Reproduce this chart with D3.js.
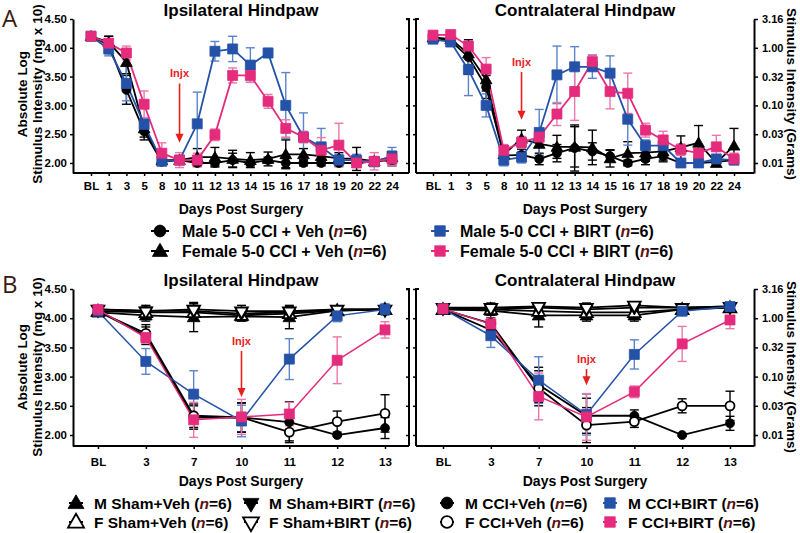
<!DOCTYPE html>
<html><head><meta charset="utf-8">
<script src="https://cdn.jsdelivr.net/npm/d3@7"></script>
<style>
body{margin:0;background:#fff;}
svg{font-family:"Liberation Sans",Arial,sans-serif;}
</style></head>
<body><svg id="c" width="800" height="533"></svg>
<script>
// ---------- DATA ----------
const catsA = ["BL","1","3","5","8","10","11","12","13","14","15","16","17","18","19","20","22","24"];
const catsB = ["BL","3","7","10","11","12","13"];
const yTicks = [2.0,2.5,3.0,3.5,4.0,4.5];
const gramTicks = ["0.01","0.03","0.10","0.32","1.00","3.16"];

// Panel A – Ipsilateral
const aIpsiMaleVeh    = [4.20,4.05,3.27,2.55,2.02,2.05,2.00,2.00,2.05,2.00,2.05,2.00,2.00,2.00,2.00,2.00,2.03,2.05];
const aIpsiMaleVehErr = [0.03,0.15,0.25,0.15,0.05,0.05,0.05,0.05,0.12,0.05,0.05,0.08,0.05,0.05,0.05,0.05,0.03,0.10];
const aIpsiFemVeh     = [4.20,4.10,3.75,2.60,2.05,2.05,2.10,2.10,2.07,2.05,2.07,2.15,2.15,2.12,2.08,2.07,2.03,2.10];
const aIpsiFemVehErr  = [0.03,0.10,0.20,0.15,0.05,0.05,0.15,0.17,0.15,0.13,0.12,0.25,0.10,0.10,0.10,0.20,0.05,0.10];
const aIpsiMaleBirt   = [4.20,3.98,3.38,2.67,2.03,2.05,2.68,3.94,3.98,3.70,3.91,3.00,2.45,2.28,2.05,2.05,2.02,2.12];
const aIpsiMaleBirtErr= [0.03,0.12,0.30,0.10,0.05,0.05,0.55,0.17,0.22,0.30,0.08,0.57,0.42,0.32,0.10,0.10,0.05,0.15];
const aIpsiFemBirt    = [4.20,4.08,3.91,3.02,2.17,2.05,2.05,2.49,3.52,3.52,3.07,2.60,2.45,2.22,2.31,2.00,2.03,2.07];
const aIpsiFemBirtErr = [0.03,0.05,0.12,0.23,0.18,0.13,0.12,0.10,0.13,0.12,0.12,0.15,0.10,0.22,0.38,0.05,0.15,0.12];

// Panel A – Contralateral
const aConMaleVeh     = [4.18,4.12,3.84,3.32,2.13,2.14,2.07,2.17,2.26,2.20,2.12,2.00,2.07,2.12,2.00,2.00,2.02,2.05];
const aConMaleVehErr  = [0.03,0.05,0.30,0.20,0.15,0.10,0.10,0.15,0.40,0.15,0.10,0.05,0.10,0.10,0.05,0.05,0.05,0.05];
const aConFemVeh      = [4.18,4.15,3.90,3.45,2.15,2.42,2.33,2.28,2.28,2.27,2.08,2.17,2.18,2.20,2.27,2.35,2.00,2.30];
const aConFemVehErr   = [0.03,0.05,0.20,0.20,0.15,0.15,0.20,0.20,0.35,0.30,0.15,0.20,0.15,0.15,0.20,0.30,0.05,0.30];
const aConMaleBirt    = [4.15,4.10,3.62,3.00,2.05,2.10,2.53,3.53,3.67,3.67,3.56,2.76,2.30,2.30,2.00,2.00,2.07,2.05];
const aConMaleBirtErr = [0.03,0.05,0.45,0.20,0.10,0.10,0.40,0.50,0.35,0.20,0.30,0.45,0.10,0.15,0.05,0.05,0.05,0.05];
const aConFemBirt     = [4.22,4.23,4.03,3.63,2.22,2.36,2.45,2.85,3.24,3.76,3.24,3.21,2.57,2.40,2.23,2.17,2.28,2.07];
const aConFemBirtErr  = [0.03,0.05,0.05,0.20,0.10,0.10,0.10,0.20,0.50,0.12,0.30,0.35,0.12,0.15,0.10,0.15,0.20,0.10];

// Panel B – Ipsilateral
const bIpsiMShamVeh   = [4.10,4.05,4.02,4.03,4.02,4.13,4.15];
const bIpsiMShamVehErr= [0.05,0.10,0.25,0.08,0.20,0.05,0.05];
const bIpsiFShamVeh   = [4.12,4.10,4.10,4.05,4.08,4.13,4.15];
const bIpsiFShamVehErr= [0.05,0.08,0.10,0.08,0.08,0.05,0.05];
const bIpsiMShamBirt  = [4.15,4.13,4.12,4.08,4.10,4.15,4.15];
const bIpsiMShamBirtErr=[0.05,0.08,0.10,0.10,0.08,0.05,0.05];
const bIpsiFShamBirt  = [4.15,4.12,4.15,4.12,4.12,4.15,4.15];
const bIpsiFShamBirtErr=[0.05,0.10,0.10,0.10,0.08,0.05,0.05];
const bIpsiMCciVeh    = [4.12,3.70,2.30,2.30,2.22,2.00,2.12];
const bIpsiMCciVehErr = [0.05,0.15,0.20,0.25,0.35,0.02,0.18];
const bIpsiFCciVeh    = [4.12,3.74,2.33,2.30,2.05,2.23,2.37];
const bIpsiFCciVehErr = [0.05,0.15,0.20,0.25,0.15,0.18,0.32];
const bIpsiMCciBirt   = [4.12,3.26,2.70,2.24,3.30,4.04,4.15];
const bIpsiMCciBirtErr= [0.05,0.22,0.40,0.27,0.35,0.10,0.10];
const bIpsiFCciBirt   = [4.15,3.67,2.26,2.31,2.36,3.28,3.80];
const bIpsiFCciBirtErr= [0.05,0.10,0.30,0.30,0.20,0.40,0.14];

// Panel B – Contralateral
const bConMShamVeh    = [4.15,4.13,4.05,4.05,4.05,4.15,4.18];
const bConMShamVehErr = [0.05,0.08,0.20,0.10,0.10,0.05,0.05];
const bConFShamVeh    = [4.15,4.15,4.12,4.10,4.10,4.15,4.18];
const bConFShamVehErr = [0.05,0.08,0.10,0.08,0.08,0.05,0.05];
const bConMShamBirt   = [4.18,4.15,4.18,4.15,4.18,4.18,4.20];
const bConMShamBirtErr= [0.05,0.08,0.05,0.08,0.05,0.05,0.05];
const bConFShamBirt   = [4.18,4.18,4.20,4.18,4.22,4.18,4.20];
const bConFShamBirtErr= [0.05,0.08,0.05,0.08,0.05,0.05,0.05];
const bConMCciVeh     = [4.15,3.80,2.86,2.33,2.33,2.00,2.20];
const bConMCciVehErr  = [0.05,0.15,0.30,0.30,0.10,0.02,0.12];
const bConFCciVeh     = [4.15,3.91,2.80,2.17,2.23,2.50,2.50];
const bConFCciVehErr  = [0.05,0.10,0.30,0.30,0.10,0.12,0.25];
const bConMCciBirt    = [4.16,3.70,2.94,2.35,3.38,4.12,4.20];
const bConMCciBirtErr = [0.05,0.20,0.40,0.35,0.25,0.05,0.05];
const bConFCciBirt    = [4.16,3.90,2.66,2.31,2.74,3.56,3.97];
const bConFCciBirtErr = [0.05,0.10,0.40,0.40,0.10,0.30,0.15];

// ---------- STYLE ----------
const BLUE = "#2452a8", PINK = "#e42b7c", BLUE_E = "#5b84cc", PINK_E = "#ec77a8", BLACK = "#000";
const NCOL = "#5a1414";

const svg = d3.select("#c");

function symPath(kind, size){
  const map = {circle:d3.symbolCircle, square:d3.symbolSquare, tri:d3.symbolTriangle, tridown:d3.symbolTriangle};
  return d3.symbol().type(map[kind]).size(size)();
}

function drawMarker(g, kind, x, y, color, open, size){
  return g.append("path").attr("d", symPath(kind,size))
    .attr("transform", `translate(${x},${y})` + (kind==="tridown" ? " rotate(180)" : (kind==="tri"?" translate(0,1)":"")))
    .attr("fill", open ? "#fff" : color)
    .attr("stroke", color).attr("stroke-width", open ? 1.8 : 0.8);
}

function drawPanel(o){
  const g = svg.append("g");
  const x = d3.scalePoint().domain(o.cats).range([o.xFirst, o.xLast]);
  const y = d3.scaleLinear().domain([o.yMin, 4.5]).range([o.axisY, o.yTop]);

  // x axis
  const xa = g.append("g").attr("transform", `translate(0,${o.axisY})`);
  xa.append("line").attr("x1", o.x0).attr("x2", o.x1).attr("stroke","#000").attr("stroke-width",2);
  xa.call(d3.axisBottom(x).tickSize(3).tickPadding(o.xPad).tickSizeOuter(0))
    .call(s=>s.select(".domain").remove());
  xa.selectAll("text").attr("font-size", o.xFont).attr("font-weight","bold").attr("fill","#000");
  xa.selectAll(".tick line").attr("stroke-width",1.5);

  // left axis
  const ya = g.append("g").attr("transform", `translate(${o.x0},0)`)
    .call(d3.axisLeft(y).tickValues(yTicks).tickSize(3).tickPadding(3).tickSizeOuter(0)
      .tickFormat(o.left ? d3.format(".2f") : ""));
  ya.select(".domain").attr("stroke-width",2);
  ya.selectAll(".tick line").attr("stroke-width",1.5);
  ya.selectAll("text").attr("font-size",11.5).attr("font-weight","bold").attr("fill","#000");
  if (!o.left){
    ya.select(".domain").attr("d", `M3,${o.yTop}H0V${o.axisY}`);
  }

  if (o.left){
    const ra = g.append("g").attr("transform", `translate(${o.x1},0)`)
      .call(d3.axisRight(y).tickValues(yTicks).tickSize(3).tickFormat(""));
    ra.select(".domain").attr("d", `M-3,${o.yTop}H0V${o.axisY}`).attr("stroke-width",2);
    ra.selectAll(".tick line").attr("x2",-3).attr("stroke-width",1.5);
  } else {
    const ra = g.append("g").attr("transform", `translate(${o.x1},0)`)
      .call(d3.axisRight(y).tickValues(yTicks).tickSize(4).tickPadding(4).tickSizeOuter(0)
        .tickFormat((d,i)=>gramTicks[i]));
    ra.select(".domain").attr("stroke-width",2);
    ra.selectAll(".tick line").attr("stroke-width",1.5);
    ra.selectAll("text").attr("font-size",11).attr("font-weight","bold").attr("fill","#000");
  }

  // title
  g.append("text").attr("x",(o.x0+o.x1)/2).attr("y",o.titleY).attr("text-anchor","middle")
    .attr("font-size",17).attr("font-weight","bold").text(o.title);
  // x label
  g.append("text").attr("x",(o.x0+o.x1)/2).attr("y",o.xLabY).attr("text-anchor","middle")
    .attr("font-size",14).attr("font-weight","bold").text("Days Post Surgery");

  // series
  const layers = {err:g.append("g"), line:g.append("g"), mark:g.append("g")};
  o.series.forEach(s=>{
    const ec = s.ecolor || s.color;
    s.vals.forEach((v,i)=>{
      const cx = x(o.cats[i]), e = s.err[i];
      layers.err.append("line").attr("x1",cx).attr("x2",cx).attr("y1",y(v-e)).attr("y2",y(v+e))
        .attr("stroke",ec).attr("stroke-width",1.4);
      [v-e, v+e].forEach(w=>layers.err.append("line").attr("x1",cx-4.5).attr("x2",cx+4.5)
        .attr("y1",y(w)).attr("y2",y(w)).attr("stroke",ec).attr("stroke-width",1.4));
    });
    layers.line.append("path").datum(s.vals)
      .attr("d", d3.line().x((d,i)=>x(o.cats[i])).y(d=>y(d)))
      .attr("fill","none").attr("stroke",s.color).attr("stroke-width", s.lw || 1.8);
    s.vals.forEach((v,i)=>drawMarker(layers.mark, s.kind, x(o.cats[i]), y(v), s.color, s.open, s.size));
  });

  // Injx arrow
  const ax = x("10");
  g.append("text").attr("x",ax).attr("y",y(o.inj.text)).attr("text-anchor","middle")
    .attr("font-size",11).attr("font-weight","bold").attr("fill","#e8201c").text("Injx");
  g.append("line").attr("x1",ax).attr("x2",ax).attr("y1",y(o.inj.from)).attr("y2",y(o.inj.to)-6)
    .attr("stroke","#e8201c").attr("stroke-width",1.6);
  g.append("path").attr("d",`M${ax-4},${y(o.inj.to)-9}L${ax+4},${y(o.inj.to)-9}L${ax},${y(o.inj.to)}Z`)
    .attr("fill","#e8201c");
  return g;
}

const sq = 100, ci = 64, tr = 60;
const aY = {yTop:19, axisY:173, yMin:1.826, xPad:6, xFont:11.5, titleY:16, xLabY:214};
const bY = {yTop:289, axisY:446, yMin:1.812, xPad:9, xFont:11.5, titleY:286, xLabY:486};

drawPanel(Object.assign({}, aY, {cats:catsA, x0:73, x1:409, xFirst:91, xLast:392, left:true,
  title:"Ipsilateral Hindpaw", inj:{text:3.50, from:3.38, to:2.35},
  series:[
    {vals:aIpsiMaleVeh, err:aIpsiMaleVehErr, color:BLACK, kind:"circle", size:ci},
    {vals:aIpsiFemVeh, err:aIpsiFemVehErr, color:BLACK, kind:"tri", size:tr},
    {vals:aIpsiMaleBirt, err:aIpsiMaleBirtErr, color:BLUE, ecolor:BLUE_E, kind:"square", size:sq},
    {vals:aIpsiFemBirt, err:aIpsiFemBirtErr, color:PINK, ecolor:PINK_E, kind:"square", size:sq}
  ]}));
drawPanel(Object.assign({}, aY, {cats:catsA, x0:416, x1:754, xFirst:433, xLast:734, left:false,
  title:"Contralateral Hindpaw", inj:{text:3.68, from:3.58, to:2.75},
  series:[
    {vals:aConMaleVeh, err:aConMaleVehErr, color:BLACK, kind:"circle", size:ci},
    {vals:aConFemVeh, err:aConFemVehErr, color:BLACK, kind:"tri", size:tr},
    {vals:aConMaleBirt, err:aConMaleBirtErr, color:BLUE, ecolor:BLUE_E, kind:"square", size:sq},
    {vals:aConFemBirt, err:aConFemBirtErr, color:PINK, ecolor:PINK_E, kind:"square", size:sq}
  ]}));
const sh = 70;
drawPanel(Object.assign({}, bY, {cats:catsB, x0:73, x1:409, xFirst:98, xLast:385, left:true,
  title:"Ipsilateral Hindpaw", inj:{text:3.54, from:3.44, to:2.65},
  series:[
    {vals:bIpsiMCciVeh, err:bIpsiMCciVehErr, color:BLACK, kind:"circle", size:ci},
    {vals:bIpsiFCciVeh, err:bIpsiFCciVehErr, color:BLACK, kind:"circle", open:true, size:ci},
    {vals:bIpsiMShamVeh, err:bIpsiMShamVehErr, color:BLACK, kind:"tri", size:sh},
    {vals:bIpsiFShamVeh, err:bIpsiFShamVehErr, color:BLACK, kind:"tri", open:true, size:sh},
    {vals:bIpsiMShamBirt, err:bIpsiMShamBirtErr, color:BLACK, kind:"tridown", size:sh},
    {vals:bIpsiFShamBirt, err:bIpsiFShamBirtErr, color:BLACK, kind:"tridown", open:true, size:sh},
    {vals:bIpsiMCciBirt, err:bIpsiMCciBirtErr, color:BLUE, ecolor:BLUE_E, kind:"square", size:sq, lw:1.5},
    {vals:bIpsiFCciBirt, err:bIpsiFCciBirtErr, color:PINK, ecolor:PINK_E, kind:"square", size:sq, lw:1.5}
  ]}));
drawPanel(Object.assign({}, bY, {cats:catsB, x0:416, x1:754, xFirst:443, xLast:730, left:false,
  title:"Contralateral Hindpaw", inj:{text:3.23, from:3.13, to:2.85},
  series:[
    {vals:bConMCciVeh, err:bConMCciVehErr, color:BLACK, kind:"circle", size:ci},
    {vals:bConFCciVeh, err:bConFCciVehErr, color:BLACK, kind:"circle", open:true, size:ci},
    {vals:bConMShamVeh, err:bConMShamVehErr, color:BLACK, kind:"tri", size:sh},
    {vals:bConFShamVeh, err:bConFShamVehErr, color:BLACK, kind:"tri", open:true, size:sh},
    {vals:bConMShamBirt, err:bConMShamBirtErr, color:BLACK, kind:"tridown", size:sh},
    {vals:bConFShamBirt, err:bConFShamBirtErr, color:BLACK, kind:"tridown", open:true, size:sh},
    {vals:bConMCciBirt, err:bConMCciBirtErr, color:BLUE, ecolor:BLUE_E, kind:"square", size:sq, lw:1.5},
    {vals:bConFCciBirt, err:bConFCciBirtErr, color:PINK, ecolor:PINK_E, kind:"square", size:sq, lw:1.5}
  ]}));

// panel letters
svg.append("text").attr("x",2).attr("y",27).attr("font-size",24).attr("fill","#3a1a10").attr("font-family","Open Sans, sans-serif").text("A");
svg.append("text").attr("x",2).attr("y",293).attr("font-size",24).attr("fill","#3a1a10").attr("font-family","Open Sans, sans-serif").text("B");

// y axis titles
function yTitles(cy){
  svg.append("text").attr("transform",`translate(27,${cy}) rotate(-90)`).attr("text-anchor","middle")
    .attr("font-size",13.5).attr("font-weight","bold").text("Absolute Log");
  svg.append("text").attr("transform",`translate(42,${cy}) rotate(-90)`).attr("text-anchor","middle")
    .attr("font-size",13.5).attr("font-weight","bold").text("Stimulus Intensity (mg x 10)");
  svg.append("text").attr("transform",`translate(787,${cy}) rotate(90)`).attr("text-anchor","middle")
    .attr("font-size",13.5).attr("font-weight","bold").text("Stimulus Intensity (Grams)");
}
yTitles(94); yTitles(367);

// legends
function legendItem(x, y, kind, color, open, label, fs, textX, size, lineLen){
  const g = svg.append("g");
  g.append("line").attr("x1",x-lineLen/2).attr("x2",x+lineLen/2).attr("y1",y).attr("y2",y)
    .attr("stroke",color).attr("stroke-width",2);
  drawMarker(g, kind, x, y, color, open, size);
  const t = g.append("text").attr("x", textX).attr("y", y + fs*0.36)
    .attr("font-size",fs).attr("font-weight","bold");
  const m = label.match(/^(.*\()n(=6\))$/);
  t.append("tspan").text(m[1]);
  t.append("tspan").attr("font-style","italic").attr("fill",NCOL).text("n");
  t.append("tspan").text(m[2]);
}
legendItem(160, 231, "circle", BLACK, false, "Male 5-0 CCI + Veh (n=6)", 16, 182, 110, 18);
legendItem(160, 251, "tri", BLACK, false, "Female 5-0 CCI + Veh (n=6)", 16, 182, 100, 18);
legendItem(440, 231, "square", BLUE, false, "Male 5-0 CCI + BIRT (n=6)", 16, 460, 110, 18);
legendItem(440, 251, "square", PINK, false, "Female 5-0 CCI + BIRT (n=6)", 16, 460, 110, 18);

const bLeg = [
  [76, 503, "tri", BLACK, false, "M Sham+Veh (n=6)", 94],
  [76, 522, "tri", BLACK, true,  "F Sham+Veh (n=6)", 94],
  [251, 503, "tridown", BLACK, false, "M Sham+BIRT (n=6)", 269],
  [251, 522, "tridown", BLACK, true,  "F Sham+BIRT (n=6)", 269],
  [447, 503, "circle", BLACK, false, "M CCI+Veh (n=6)", 465],
  [447, 522, "circle", BLACK, true,  "F CCI+Veh (n=6)", 465],
  [610, 503, "square", BLUE, false, "M CCI+BIRT (n=6)", 628],
  [610, 522, "square", PINK, false, "F CCI+BIRT (n=6)", 628]
];
bLeg.forEach(d=>legendItem(d[0], d[1], d[2], d[3], d[4], d[5], 15.5, d[6], 110, 14));
</script></body></html>
